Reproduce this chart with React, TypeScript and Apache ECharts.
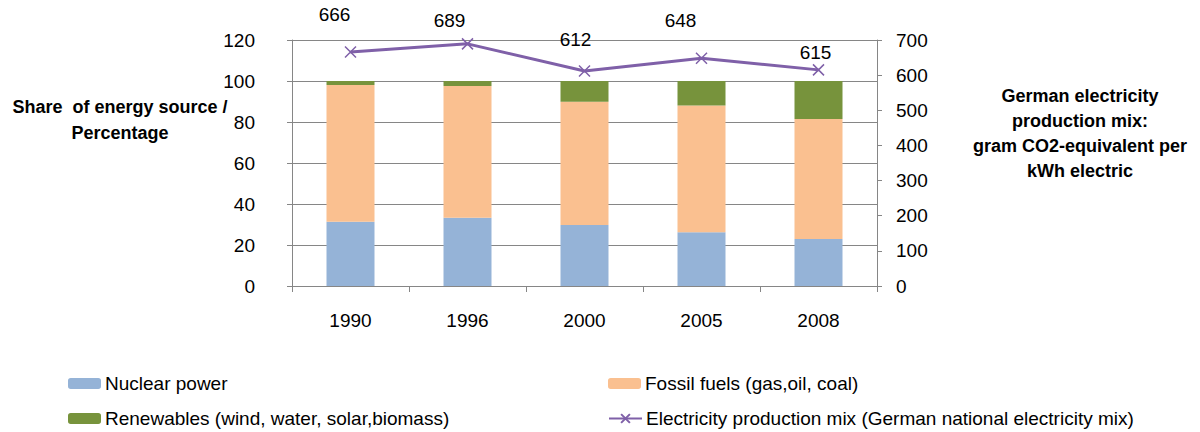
import React, { useEffect, useRef } from "react";
import * as echarts from "echarts";

const years = ["1990", "1996", "2000", "2005", "2008"];
const nuclear = [31.4, 33.3, 29.8, 26.2, 22.9];
const fossil = [66.6, 64.3, 60.1, 61.8, 58.6];
const renewables = [2.0, 2.4, 10.1, 12.0, 18.5];
const co2 = [666, 689, 612, 648, 615];

const seriesNames = [
  "Nuclear power",
  "Fossil fuels (gas,oil, coal)",
  "Renewables (wind, water, solar,biomass)",
  "Electricity production mix (German national electricity mix)",
];

// label placement (style only)
const labelOffsets = [
  [-16, -37],
  [-18, -23],
  [-9, -31],
  [-21, -38],
  [-3, -17],
];

const FONT = "'Liberation Sans', Arial, sans-serif";
const AXIS_GRAY = "#868686";
const COLORS = ["#95B3D7", "#FAC090", "#77933C", "#7F60A8"];
const FS = 19;

export default function App() {
  const ref = useRef<HTMLDivElement>(null);
  useEffect(() => {
    document.body.style.margin = "0";
    const chart = echarts.init(ref.current!, null, { renderer: "svg" });
    const legendPos = [
      { left: 68, top: 374 },
      { left: 608, top: 374 },
      { left: 68, top: 409 },
      { left: 608, top: 409 },
    ];
    chart.setOption({
      animation: false,
      textStyle: { fontFamily: FONT },
      grid: { left: 292, right: 323, top: 40, bottom: 146, containLabel: false },
      legend: seriesNames.map((n, i) => ({
        data: [n],
        left: legendPos[i].left,
        top: legendPos[i].top,
        itemWidth: 33,
        itemHeight: 11,
        itemGap: 4,
        padding: 0,
        selectedMode: false,
        textStyle: { fontSize: FS, color: "#000", fontFamily: FONT, padding: [0, 0, 0, -1] },
      })),
      xAxis: {
        type: "category",
        data: years,
        axisLine: { lineStyle: { color: AXIS_GRAY, width: 1 } },
        axisTick: { show: true, length: 6, lineStyle: { color: AXIS_GRAY } },
        axisLabel: { color: "#000", fontSize: FS, margin: 25 },
      },
      yAxis: [
        {
          type: "value",
          min: 0,
          max: 120,
          interval: 20,
          position: "left",
          axisLine: { show: true, lineStyle: { color: AXIS_GRAY } },
          axisTick: { show: true, length: 5, lineStyle: { color: AXIS_GRAY } },
          axisLabel: { color: "#000", fontSize: FS, margin: 37 },
          splitLine: { show: true, lineStyle: { color: AXIS_GRAY, width: 1 } },
        },
        {
          type: "value",
          min: 0,
          max: 700,
          interval: 100,
          position: "right",
          axisLine: { show: true, lineStyle: { color: AXIS_GRAY } },
          axisTick: { show: true, length: 5, lineStyle: { color: AXIS_GRAY } },
          axisLabel: { color: "#000", fontSize: FS, margin: 19 },
          splitLine: { show: false },
        },
      ],
      graphic: [
        {
          type: "text",
          x: 120,
          y: 94,
          style: {
            text: "Share  of energy source /\nPercentage",
            font: `bold 18px ${FONT}`,
            fill: "#000",
            align: "center",
            verticalAlign: "top",
            lineHeight: 26,
          },
        },
        {
          type: "text",
          x: 1080,
          y: 83,
          style: {
            text: "German electricity\nproduction mix:\ngram CO2-equivalent per\nkWh electric",
            font: `bold 18px ${FONT}`,
            fill: "#000",
            align: "center",
            verticalAlign: "top",
            lineHeight: 25,
          },
        },
      ],
      series: [
        {
          name: seriesNames[0],
          type: "bar",
          stack: "share",
          data: nuclear,
          barWidth: 48,
          itemStyle: { color: COLORS[0] },
        },
        {
          name: seriesNames[1],
          type: "bar",
          stack: "share",
          data: fossil,
          barWidth: 48,
          itemStyle: { color: COLORS[1] },
        },
        {
          name: seriesNames[2],
          type: "bar",
          stack: "share",
          data: renewables,
          barWidth: 48,
          itemStyle: { color: COLORS[2] },
        },
        {
          name: seriesNames[3],
          type: "line",
          yAxisIndex: 1,
          data: co2.map((v, i) => ({
            value: v,
            label: { offset: labelOffsets[i] },
          })),
          symbol: "path://M0,0L10,10M10,0L0,10",
          symbolSize: 11,
          lineStyle: { color: COLORS[3], width: 3 },
          itemStyle: { color: "none", borderColor: COLORS[3], borderWidth: 1.5 },
          label: {
            show: true,
            position: "inside",
            align: "center",
            verticalAlign: "middle",
            color: "#000",
            fontSize: FS,
            fontFamily: FONT,
          },
          z: 5,
        },
      ],
    });
    return () => chart.dispose();
  }, []);
  return <div ref={ref} style={{ width: 1200, height: 432 }} />;
}
